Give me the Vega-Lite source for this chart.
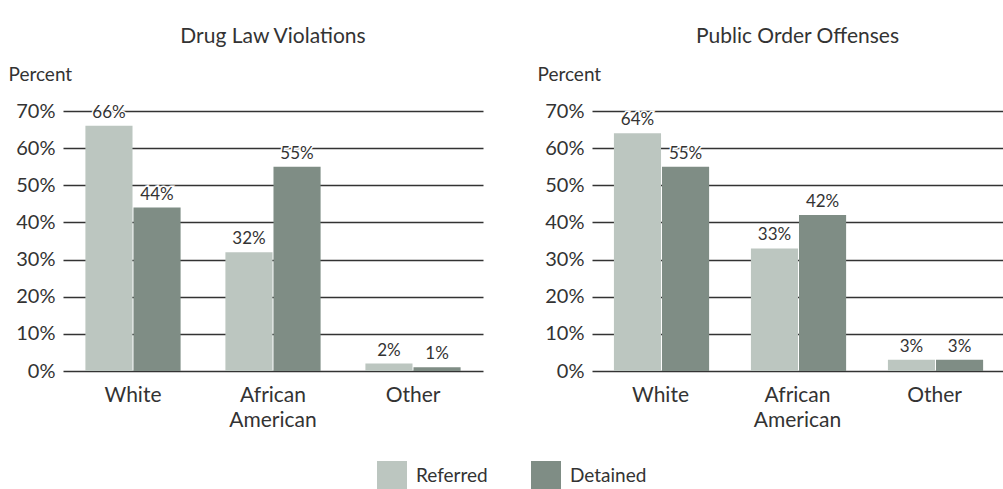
{
  "$schema": "https://vega.github.io/schema/vega-lite/v6.json",
  "background": "white",
  "padding": {"left": 8, "top": 26, "right": 0, "bottom": 0},
  "config": {
    "font": "Lato",
    "view": {"stroke": null},
    "title": {"fontSize": 21, "fontWeight": "normal", "color": "#333", "anchor": "middle", "offset": 18},
    "axis": {"labelFont": "Lato", "titleFont": "Lato"},
    "legend": {"labelFont": "Lato"}
  },
  "data": {
    "values": [
      {"panel": "Drug Law Violations", "race": "White", "status": "Referred", "pct": 66, "label": "66%"},
      {"panel": "Drug Law Violations", "race": "White", "status": "Detained", "pct": 44, "label": "44%"},
      {"panel": "Drug Law Violations", "race": "African American", "status": "Referred", "pct": 32, "label": "32%"},
      {"panel": "Drug Law Violations", "race": "African American", "status": "Detained", "pct": 55, "label": "55%"},
      {"panel": "Drug Law Violations", "race": "Other", "status": "Referred", "pct": 2, "label": "2%"},
      {"panel": "Drug Law Violations", "race": "Other", "status": "Detained", "pct": 1, "label": "1%"},
      {"panel": "Public Order Offenses", "race": "White", "status": "Referred", "pct": 64, "label": "64%"},
      {"panel": "Public Order Offenses", "race": "White", "status": "Detained", "pct": 55, "label": "55%"},
      {"panel": "Public Order Offenses", "race": "African American", "status": "Referred", "pct": 33, "label": "33%"},
      {"panel": "Public Order Offenses", "race": "African American", "status": "Detained", "pct": 42, "label": "42%"},
      {"panel": "Public Order Offenses", "race": "Other", "status": "Referred", "pct": 3, "label": "3%"},
      {"panel": "Public Order Offenses", "race": "Other", "status": "Detained", "pct": 3, "label": "3%"}
    ]
  },
  "spacing": 54,
  "hconcat": [
    {
      "title": "Drug Law Violations",
      "width": 420,
      "height": 260,
      "transform": [{"filter": "datum.panel === 'Drug Law Violations'"}],
      "encoding": {
        "x": {"field": "race", "type": "nominal", "sort": ["White", "African American", "Other"],
          "scale": {"paddingInner": 0.32, "paddingOuter": 0.16},
          "axis": {"title": null, "domain": false, "ticks": false, "labelAngle": 0, "labelFontSize": 21, "labelColor": "#333", "labelPadding": 13, "labelLineHeight": 25, "labelExpr": "split(datum.label, ' ')"}},
        "xOffset": {"field": "status", "type": "nominal", "sort": ["Referred", "Detained"], "scale": {"paddingInner": 0.02}},
        "y": {"field": "pct", "type": "quantitative", "scale": {"domain": [0, 70]},
          "axis": {"values": [0, 10, 20, 30, 40, 50, 60, 70], "labelExpr": "datum.value + '%'", "domain": false, "ticks": false, "grid": true, "gridColor": "#333", "gridWidth": 1.5, "gridOpacity": 1, "labelFontSize": 20, "labelColor": "#333", "labelPadding": 8,
            "title": "Percent", "titleAngle": 0, "titleAlign": "left", "titleBaseline": "alphabetic", "titleX": -55, "titleY": -31, "titleFontSize": 19, "titleFontWeight": "normal", "titleColor": "#333"}}
      },
      "layer": [
        {"mark": {"type": "bar"},
          "encoding": {"color": {"field": "status", "type": "nominal", "sort": ["Referred", "Detained"],
            "scale": {"domain": ["Referred", "Detained"], "range": ["#bcc6c0", "#7f8d85"]},
            "legend": {"title": null, "orient": "none", "legendX": 314, "legendY": 350, "direction": "horizontal", "symbolType": "square", "symbolSize": 900, "symbolStrokeWidth": 0, "labelFontSize": 19, "labelColor": "#333", "columnPadding": 43, "labelOffset": 9}}}},
        {"mark": {"type": "text", "dy": -4, "fontSize": 17, "color": "white", "stroke": "white", "strokeWidth": 3, "baseline": "bottom"},
          "encoding": {"text": {"field": "label"}, "detail": {"field": "status"}}},
        {"mark": {"type": "text", "dy": -4, "fontSize": 17, "color": "#333", "baseline": "bottom"},
          "encoding": {"text": {"field": "label"}, "detail": {"field": "status"}}}
      ]
    },
    {
      "title": "Public Order Offenses",
      "width": 411,
      "height": 260,
      "transform": [{"filter": "datum.panel === 'Public Order Offenses'"}],
      "encoding": {
        "x": {"field": "race", "type": "nominal", "sort": ["White", "African American", "Other"],
          "scale": {"paddingInner": 0.32, "paddingOuter": 0.16},
          "axis": {"title": null, "domain": false, "ticks": false, "labelAngle": 0, "labelFontSize": 21, "labelColor": "#333", "labelPadding": 13, "labelLineHeight": 25, "labelExpr": "split(datum.label, ' ')"}},
        "xOffset": {"field": "status", "type": "nominal", "sort": ["Referred", "Detained"], "scale": {"paddingInner": 0.02}},
        "y": {"field": "pct", "type": "quantitative", "scale": {"domain": [0, 70]},
          "axis": {"values": [0, 10, 20, 30, 40, 50, 60, 70], "labelExpr": "datum.value + '%'", "domain": false, "ticks": false, "grid": true, "gridColor": "#333", "gridWidth": 1.5, "gridOpacity": 1, "labelFontSize": 20, "labelColor": "#333", "labelPadding": 8,
            "title": "Percent", "titleAngle": 0, "titleAlign": "left", "titleBaseline": "alphabetic", "titleX": -55, "titleY": -31, "titleFontSize": 19, "titleFontWeight": "normal", "titleColor": "#333"}}
      },
      "layer": [
        {"mark": {"type": "bar"},
          "encoding": {"color": {"field": "status", "type": "nominal", "sort": ["Referred", "Detained"],
            "scale": {"domain": ["Referred", "Detained"], "range": ["#bcc6c0", "#7f8d85"]}}}},
        {"mark": {"type": "text", "dy": -4, "fontSize": 17, "color": "white", "stroke": "white", "strokeWidth": 3, "baseline": "bottom"},
          "encoding": {"text": {"field": "label"}, "detail": {"field": "status"}}},
        {"mark": {"type": "text", "dy": -4, "fontSize": 17, "color": "#333", "baseline": "bottom"},
          "encoding": {"text": {"field": "label"}, "detail": {"field": "status"}}}
      ]
    }
  ]
}
